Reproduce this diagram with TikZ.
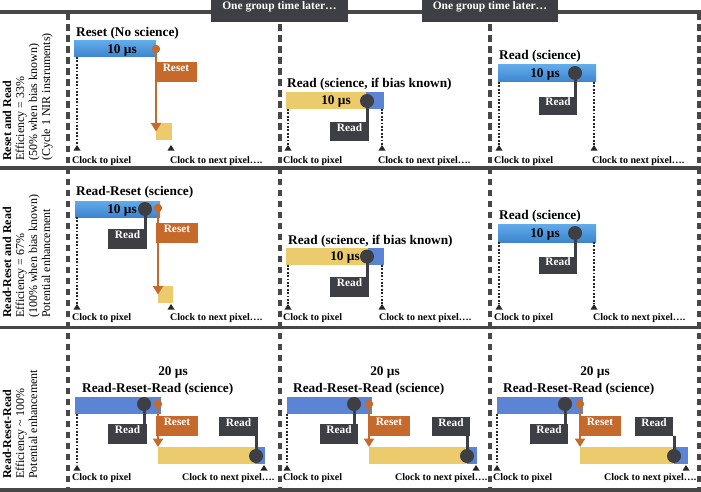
\documentclass[tikz,border=0pt]{standalone}
\usepackage{fontspec}
\setmainfont{Liberation Serif}
\usetikzlibrary{arrows.meta,fit}
\definecolor{dk}{HTML}{3D3F44}
\definecolor{ln}{HTML}{474747}
\definecolor{org}{HTML}{C66A2C}
\definecolor{ylw}{HTML}{EBCB6B}
\definecolor{peri}{HTML}{5B84D4}
\definecolor{bluet}{HTML}{62ABEA}
\definecolor{blueb}{HTML}{3D84CE}
\newcommand{\fitbox}[7]{\node[inner sep=0pt, outer sep=0pt, #6, fit={(#2,#3) (#4,#5)}] (#1) {#7};}
\newcommand{\clktri}[1]{\fill[black!85, shift={(#1)}] (-3.5,5.5) -- (0,0) -- (3.5,5.5) -- cycle;}
\tikzset{
  grad/.style={top color=bluet, bottom color=blueb, draw=none},
  yel/.style={fill=ylw},
  per/.style={fill=peri},
  readb/.style={fill=dk, text=white, font=\fontsize{11.3}{12}\selectfont\bfseries},
  resetb/.style={fill=org, text=white, font=\fontsize{11.3}{12}\selectfont\bfseries},
  hdr/.style={fill=dk, text=white, font=\fontsize{11.5}{13}\selectfont\bfseries},
  ttl/.style={anchor=base west, inner sep=0pt, font=\fontsize{13.3}{15}\selectfont\bfseries},
  us/.style={anchor=base, inner sep=0pt, font=\fontsize{13.3}{15}\selectfont\bfseries},
  clk/.style={anchor=base west, inner sep=0pt, font=\fontsize{10}{12}\selectfont\bfseries},
  bigdot/.style={circle, fill=dk, minimum size=14pt, inner sep=0pt},
  odot/.style={circle, fill=org, minimum size=8pt, inner sep=0pt},
  pole/.style={draw=dk, line width=3pt},
  opole/.style={draw=org, line width=2.6pt, -{Triangle[width=10pt,length=8.5pt]}},
  dotl/.style={draw=black!85, line width=1.8pt, dash pattern=on 1.8pt off 1.6pt},
  sepline/.style={draw=ln, line width=3.5pt},
  vdash/.style={draw=ln, line width=3.5pt, dash pattern=on 6.5pt off 4.5pt},
  side/.style={rotate=90, anchor=base west, inner sep=0pt, font=\fontsize{12}{13}\selectfont},
  sideb/.style={side, font=\fontsize{12}{13}\selectfont\bfseries}
}
\begin{document}
\begin{tikzpicture}[x=1pt, y=-1pt]
\useasboundingbox (0,0) rectangle (701,492);
\fill[white] (0,0) rectangle (701,492);
% frame
\draw[sepline] (0,12) -- (701,12);
\draw[sepline] (0,168) -- (701,168);
\draw[sepline] (0,327.5) -- (701,327.5);
\draw[sepline] (0,490) -- (701,490);
\foreach \xx in {68,280,490,699} { \draw[vdash] (\xx,13.5) -- (\xx,489); }
\fitbox{g1}{211}{0}{348}{22}{hdr}{One group time later…}
\fitbox{g2}{422}{0}{558}{22}{hdr}{One group time later…}
% side labels
\node[sideb] (s1a) at (11,161) {Reset and Read};
\node[side] (s1b) at (24,161) {Efficiency = 33\%};
\node[side] (s1c) at (37,161) {(50\% when bias known)};
\node[side] (s1d) at (50,161) {(Cycle 1 NIR instruments)};
\node[sideb] (s2a) at (11,318) {Read-Reset and Read};
\node[side] (s2b) at (24,318) {Efficiency = 67\%};
\node[side] (s2c) at (37,318) {(100\% when bias known)};
\node[side] (s2d) at (50,318) {Potential enhancement};
\node[sideb] (s3a) at (11,479) {Read-Reset-Read};
\node[side] (s3b) at (24,479) {Efficiency \textasciitilde{} 100\%};
\node[side] (s3c) at (37,479) {Potential enhancement};

% ===== Row 1, panel 1
\node[ttl] (h11) at (76,36.5) {Reset (No science)};
\fitbox{b11}{74}{41}{156}{57}{grad}{}
\node[us] (t11) at (122,53.5) {10 µs};
\fitbox{r11}{155}{62}{197}{82}{resetb}{Reset}
\fitbox{y11}{156}{123}{172}{140}{yel}{}
\node[odot] (o11) at (156,49) {};
\draw[opole] (o11.center) -- (o11 |- y11.center);
\node[odot] at (o11) {};
\coordinate (k11a) at (77,145); \coordinate (k11b) at (171,145);
\draw[dotl] (k11a |- b11.south) -- (k11a);
\clktri{k11a} \clktri{k11b}
\node[clk] (c11a) at (72,163.3) {Clock to pixel};
\node[clk] (c11b) at (170,163.3) {Clock to next pixel….};

% ===== Row 1, panel 2
\node[ttl] (h12) at (287,88) {Read (science, if bias known)};
\fitbox{b12y}{286}{92}{366}{109}{yel}{}
\fitbox{b12b}{366}{92}{384}{109}{per}{}
\node[us] (t12) at (336,104.8) {10 µs};
\fitbox{rb12}{330}{122}{369}{141}{readb}{Read}
\node[bigdot] (d12) at (367,101) {};
\draw[pole] (d12.center) -- (d12 |- rb12.north);
\coordinate (k12a) at (288,145); \coordinate (k12b) at (382,145);
\draw[dotl] (k12a |- b12y.south) -- (k12a);
\draw[dotl] (k12b |- b12b.south) -- (k12b);
\clktri{k12a} \clktri{k12b}
\node[clk] (c12a) at (283,163.3) {Clock to pixel};
\node[clk] (c12b) at (378,163.3) {Clock to next pixel….};

% ===== Row 1, panel 3
\node[ttl] (h13) at (499,60) {Read (science)};
\fitbox{b13}{498}{65}{596}{82}{grad}{}
\node[us] (t13) at (545,77.8) {10 µs};
\fitbox{rb13}{539}{97}{577}{115}{readb}{Read}
\node[bigdot] (d13) at (575,73) {};
\draw[pole] (d13.center) -- (d13 |- rb13.north);
\coordinate (k13a) at (499,145); \coordinate (k13b) at (594,145);
\draw[dotl] (k13a |- b13.south) -- (k13a);
\draw[dotl] (k13b |- b13.south) -- (k13b);
\clktri{k13a} \clktri{k13b}
\node[clk] (c13a) at (494,163.3) {Clock to pixel};
\node[clk] (c13b) at (592,163.3) {Clock to next pixel….};

% ===== Row 2, panel 1
\node[ttl] (h21) at (76,195.5) {Read-Reset (science)};
\fitbox{b21}{75}{201}{160}{217}{grad}{}
\node[us] (t21) at (122,213.3) {10 µs};
\fitbox{rb21}{108}{229}{147}{249}{readb}{Read}
\fitbox{rr21}{156}{223}{198}{243}{resetb}{Reset}
\fitbox{y21}{158}{286}{173}{303}{yel}{}
\node[bigdot] (d21) at (145,209) {};
\node[odot] (o21) at (158,208) {};
\draw[pole] (d21.center) -- (d21 |- rb21.north);
\draw[opole] (o21.center) -- (o21 |- y21.center);
\node[odot] at (o21) {};
\coordinate (k21a) at (77,304); \coordinate (k21b) at (171,304);
\draw[dotl] (k21a |- b21.south) -- (k21a);
\clktri{k21a} \clktri{k21b}
\node[clk] (c21a) at (72,320) {Clock to pixel};
\node[clk] (c21b) at (170,320) {Clock to next pixel….};

% ===== Row 2, panel 2
\node[ttl] (h22) at (288,244) {Read (science, if bias known)};
\fitbox{b22y}{286}{248}{368}{265}{yel}{}
\fitbox{b22b}{368}{248}{384}{265}{per}{}
\node[us] (t22) at (345,260.8) {10 µs};
\fitbox{rb22}{330}{277}{369}{297}{readb}{Read}
\node[bigdot] (d22) at (367,256.5) {};
\draw[pole] (d22.center) -- (d22 |- rb22.north);
\coordinate (k22a) at (288,304); \coordinate (k22b) at (382,304);
\draw[dotl] (k22a |- b22y.south) -- (k22a);
\draw[dotl] (k22b |- b22b.south) -- (k22b);
\clktri{k22a} \clktri{k22b}
\node[clk] (c22a) at (283,320) {Clock to pixel};
\node[clk] (c22b) at (379,320) {Clock to next pixel….};

% ===== Row 2, panel 3
\node[ttl] (h23) at (499,219) {Read (science)};
\fitbox{b23}{498}{224}{596}{242}{grad}{}
\node[us] (t23) at (545,237.3) {10 µs};
\fitbox{rb23}{539}{257}{577}{274}{readb}{Read}
\node[bigdot] (d23) at (575,233) {};
\draw[pole] (d23.center) -- (d23 |- rb23.north);
\coordinate (k23a) at (499,304); \coordinate (k23b) at (594,304);
\draw[dotl] (k23a |- b23.south) -- (k23a);
\draw[dotl] (k23b |- b23.south) -- (k23b);
\clktri{k23a} \clktri{k23b}
\node[clk] (c23a) at (494,320) {Clock to pixel};
\node[clk] (c23b) at (593,320) {Clock to next pixel….};

% ===== Row 3, panel 1
\node[us] (u31) at (173,375) {20 µs};
\node[ttl] (h31) at (82,392.3) {Read-Reset-Read (science)};
\fitbox{b31}{75}{397}{161}{414}{per}{}
\fitbox{rb31}{108}{424}{147}{444}{readb}{Read}
\fitbox{rr31}{156}{416}{198}{436}{resetb}{Reset}
\fitbox{y31}{158}{447}{255}{464}{yel}{}
\fitbox{e31}{255}{447}{265}{464}{per}{}
\fitbox{rc31}{219}{417}{258}{436}{readb}{Read}
\node[bigdot] (d31) at (144,404) {};
\node[odot] (o31) at (158,404) {};
\node[bigdot] (f31) at (256,456) {};
\draw[pole] (d31.center) -- (d31 |- rb31.north);
\draw[pole] (f31.center) -- (f31 |- rc31.south);
\draw[opole] (o31.center) -- (o31 |- y31.north);
\node[odot] at (o31) {};
\coordinate (k31a) at (77,465); \coordinate (k31b) at (264,465);
\draw[dotl] (k31a |- b31.south) -- (k31a);
\clktri{k31a} \clktri{k31b}
\node[clk] (c31a) at (72,480.7) {Clock to pixel};
\node[clk] (c31b) at (182,480.7) {Clock to next pixel….};

% ===== Row 3, panel 2
\node[us] (u32) at (385,375) {20 µs};
\node[ttl] (h32) at (293,392.3) {Read-Reset-Read (science)};
\fitbox{b32}{287}{397}{372}{414}{per}{}
\fitbox{rb32}{320}{424}{358}{444}{readb}{Read}
\fitbox{rr32}{368}{416}{410}{436}{resetb}{Reset}
\fitbox{y32}{369}{447}{467}{464}{yel}{}
\fitbox{e32}{467}{447}{477}{464}{per}{}
\fitbox{rc32}{432}{417}{470}{436}{readb}{Read}
\node[bigdot] (d32) at (354,404) {};
\node[odot] (o32) at (369,404) {};
\node[bigdot] (f32) at (467,456) {};
\draw[pole] (d32.center) -- (d32 |- rb32.north);
\draw[pole] (f32.center) -- (f32 |- rc32.south);
\draw[opole] (o32.center) -- (o32 |- y32.north);
\node[odot] at (o32) {};
\coordinate (k32a) at (287,465); \coordinate (k32b) at (476,465);
\draw[dotl] (k32a |- b32.south) -- (k32a);
\clktri{k32a} \clktri{k32b}
\node[clk] (c32a) at (283,480.7) {Clock to pixel};
\node[clk] (c32b) at (395,480.7) {Clock to next pixel….};

% ===== Row 3, panel 3
\node[us] (u33) at (595,375) {20 µs};
\node[ttl] (h33) at (503,392.3) {Read-Reset-Read (science)};
\fitbox{b33}{497}{397}{583}{414}{per}{}
\fitbox{rb33}{530}{424}{568}{444}{readb}{Read}
\fitbox{rr33}{579}{416}{621}{436}{resetb}{Reset}
\fitbox{y33}{580}{447}{674}{464}{yel}{}
\fitbox{e33}{674}{447}{688}{464}{per}{}
\fitbox{rc33}{635}{417}{673}{436}{readb}{Read}
\node[bigdot] (d33) at (565,404) {};
\node[odot] (o33) at (580,404) {};
\node[bigdot] (f33) at (674,456) {};
\draw[pole] (d33.center) -- (d33 |- rb33.north);
\draw[pole] (f33.center) -- (f33 |- rc33.south);
\draw[opole] (o33.center) -- (o33 |- y33.north);
\node[odot] at (o33) {};
\coordinate (k33a) at (497,465); \coordinate (k33b) at (686,465);
\draw[dotl] (k33a |- b33.south) -- (k33a);
\clktri{k33a} \clktri{k33b}
\node[clk] (c33a) at (493,480.7) {Clock to pixel};
\node[clk] (c33b) at (604,480.7) {Clock to next pixel….};
\end{tikzpicture}
\end{document}
